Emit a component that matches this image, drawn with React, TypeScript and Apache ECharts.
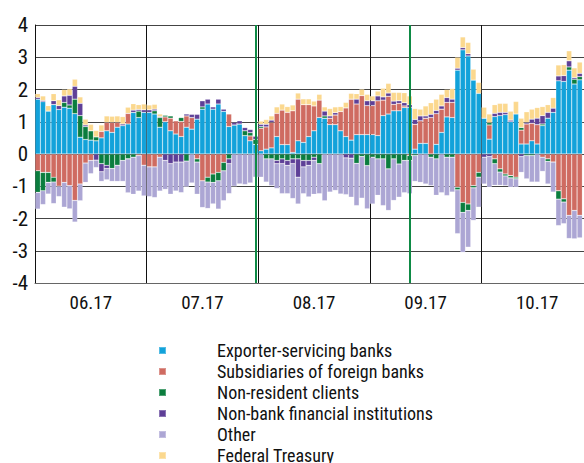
import React, { useEffect, useRef } from "react";
import * as echarts from "echarts";

// Months shown on the x axis and number of trading-day bars drawn per month
const months = ["06.17", "07.17", "08.17", "09.17", "10.17"];
const barsPerMonth = 21;
const categories = months.flatMap((m) =>
  Array.from({ length: barsPerMonth }, (_, k) => `${m}-${k + 1}`)
);

// Net FX sales by participant group, USD bn
const exporterBanks = [
  1.70, 1.62, 1.33, 1.53, 1.38, 1.45, 1.42, 1.25, 0.52, 0.45, 0.43, 0.41, 0.50, 0.72, 0.67, 0.83, 0.88, 0.93, 1.29, 1.13, 1.29,
  1.29, 1.24, 0.83, 1.00, 0.72, 0.62, 0.54, 0.83, 0.77, 1.08, 1.39, 1.55, 1.39, 1.55, 1.32, 0.85, 0.90, 0.93, 0.57, 0.41, 0.30,
  0.10, 0.15, 0.19, 0.54, 0.29, 0.29, 0.05, 0.41, 0.36, 0.54, 0.72, 1.13, 1.11, 0.91, 0.91, 0.72, 0.54, 0.43, 0.60, 0.60, 0.60,
  0.60, 0.57, 1.19, 1.24, 1.34, 1.34, 1.44, 1.44, 0.15, 0.33, 0.33, 0.00, 0.30, 0.67, 1.15, 1.13, 2.60, 3.23, 3.04, 2.29, 1.88,
  1.11, 0.46, 1.16, 1.19, 1.22, 1.00, 1.24, 0.31, 0.31, 0.41, 0.31, 0.88, 1.11, 1.29, 2.27, 2.25, 2.60, 2.17, 2.30,
];
const foreignSubsidiaries = [
  -0.52, -0.57, -0.57, -0.72, -1.00, -0.88, -0.98, -1.44, -0.93, -0.28, -0.20, 0.00, 0.20, 0.26, 0.31, 0.15, 0.00, 0.33, 0.00, -0.05, -0.35,
  -0.40, -0.40, -0.10, 0.15, 0.39, 0.41, 0.47, 0.35, 0.36, -0.15, -0.83, -0.72, -0.62, -0.57, -0.26, 0.39, 0.00, 0.00, 0.00, 0.15, 0.00,
  0.70, 0.69, 0.79, 0.72, 1.07, 1.00, 1.29, 1.29, 1.17, 0.99, 0.77, 0.54, 0.00, 0.20, 0.30, 0.60, 0.89, 1.27, 0.95, 1.21, 0.90,
  0.90, 1.08, 0.48, 0.55, 0.20, 0.23, 0.05, -0.05, 0.77, 0.70, 0.78, 1.13, 0.95, 0.72, 0.45, 0.47, -1.03, -1.50, -1.55, -0.98, -0.57,
  0.00, 0.44, -0.15, -0.46, -0.62, -0.67, -0.72, 0.43, 0.62, 0.54, 0.60, -0.10, -0.15, -0.25, -1.14, -1.39, -1.90, -1.75, -1.90,
];
const nonResidents = [
  -0.67, -0.57, -0.31, -0.15, 0.00, 0.15, 0.10, 0.45, 0.67, 0.40, 0.29, 0.12, -0.30, -0.35, -0.45, -0.35, -0.20, -0.15, -0.10, 0.20, 0.00,
  0.00, 0.10, 0.30, 0.05, 0.07, 0.00, 0.12, -0.22, 0.00, -0.10, 0.07, -0.15, -0.26, -0.26, -0.26, -0.15, 0.00, 0.00, 0.15, 0.10, 0.15,
  0.05, -0.15, -0.15, -0.20, -0.15, -0.20, -0.15, -0.15, -0.20, -0.20, -0.10, -0.30, 0.07, 0.00, 0.00, 0.00, 0.00, 0.00, -0.29, -0.08, -0.36,
  -0.10, -0.15, -0.15, -0.46, -0.15, -0.31, -0.20, -0.15, -0.05, 0.00, 0.00, -0.10, -0.15, 0.00, -0.10, -0.10, -0.08, -0.31, -0.20, -0.07, -0.15,
  0.00, 0.07, -0.15, -0.10, -0.06, -0.07, -0.05, 0.08, -0.05, -0.05, 0.00, 0.05, -0.08, 0.00, -0.26, -0.10, 0.10, 0.15, 0.10,
];
const nonBankFinancial = [
  0.05, 0.04, 0.00, 0.12, 0.12, 0.20, 0.30, 0.40, 0.38, 0.05, 0.00, -0.19, -0.25, -0.10, 0.00, 0.00, 0.05, 0.00, 0.07, 0.05, 0.08,
  0.08, 0.05, 0.03, -0.20, -0.30, -0.25, -0.25, 0.06, 0.10, 0.15, 0.19, 0.15, 0.07, 0.15, 0.07, -0.15, 0.08, 0.10, 0.10, 0.10, 0.10,
  0.07, 0.08, 0.07, -0.10, -0.15, -0.15, -0.15, -0.57, -0.20, -0.15, -0.10, 0.00, 0.15, 0.07, 0.07, 0.00, -0.12, -0.13, 0.15, 0.00, 0.15,
  0.15, 0.15, 0.10, 0.10, 0.10, 0.08, 0.10, 0.09, 0.15, 0.15, 0.07, 0.10, 0.10, 0.10, 0.15, 0.10, 0.06, 0.07, 0.07, 0.00, 0.00,
  -0.10, -0.08, 0.10, 0.10, 0.07, 0.05, 0.00, -0.08, 0.05, 0.13, 0.20, 0.26, 0.18, 0.13, 0.15, 0.18, 0.19, 0.05, 0.10,
];
const otherParticipants = [
  -0.52, -0.43, -0.36, -0.67, -0.32, -0.77, -0.72, -0.67, -0.52, -0.60, -0.41, -0.23, -0.30, -0.35, -0.40, -0.50, -0.65, -1.05, -1.15, -1.10, -0.95,
  -0.92, -0.95, -1.05, -0.90, -0.95, -0.90, -0.95, -0.80, -0.90, -1.00, -0.83, -0.82, -0.67, -0.88, -0.93, -0.93, -1.00, -0.93, -0.95, -0.90, -0.72,
  -0.72, -0.72, -0.83, -0.77, -0.93, -0.88, -1.08, -0.83, -0.83, -0.98, -1.05, -0.93, -1.45, -1.18, -1.13, -1.24, -1.14, -1.21, -1.31, -1.29, -1.34,
  -1.45, -1.13, -1.45, -1.29, -1.29, -1.03, -1.00, -1.03, -0.80, -0.88, -0.93, -0.88, -1.13, -1.20, -1.19, -1.08, -1.36, -1.24, -1.14, -1.01, -0.93,
  -0.83, -0.95, -0.67, -0.41, -0.30, -0.29, -0.26, -0.49, -0.72, -0.82, -0.87, -0.44, -0.70, -0.93, -0.82, -0.67, -0.72, -0.88, -0.70,
];
const federalTreasury = [
  0.12, 0.14, 0.17, 0.22, 0.18, 0.20, 0.20, 0.22, 0.20, 0.18, 0.20, 0.20, 0.20, 0.20, 0.19, 0.20, 0.23, 0.19, 0.20, 0.15, 0.18,
  0.15, 0.15, 0.08, 0.00, 0.00, 0.00, 0.00, 0.00, 0.00, 0.00, 0.00, 0.00, 0.00, 0.00, 0.00, 0.00, 0.00, 0.00, 0.00, 0.00, 0.00,
  0.10, 0.15, 0.13, 0.20, 0.19, 0.18, 0.18, 0.19, 0.18, 0.18, 0.15, 0.18, 0.13, 0.23, 0.18, 0.15, 0.17, 0.18, 0.17, 0.20, 0.20,
  0.15, 0.15, 0.27, 0.30, 0.27, 0.26, 0.31, 0.27, 0.34, 0.21, 0.31, 0.36, 0.35, 0.36, 0.25, 0.33, 0.34, 0.33, 0.35, 0.34, 0.34,
  0.34, 0.27, 0.27, 0.28, 0.28, 0.28, 0.39, 0.29, 0.33, 0.31, 0.33, 0.28, 0.24, 0.33, 0.34, 0.34, 0.31, 0.30, 0.35,
];

const seriesNames = [
  "Exporter-servicing banks",
  "Subsidiaries of foreign banks",
  "Non-resident clients",
  "Non-bank financial institutions",
  "Other",
  "Federal Treasury",
];
const seriesColors = ["#12A2DA", "#CF6B61", "#0B7D3E", "#5E3F97", "#ACA6D4", "#FBD88E"];
const seriesValues = [
  exporterBanks,
  foreignSubsidiaries,
  nonResidents,
  nonBankFinancial,
  otherParticipants,
  federalTreasury,
];

// Days marked with vertical green lines
const eventDays = ["07.17-21", "09.17-8"];

const FONT = "'Liberation Sans Narrow', 'Roboto Condensed', 'DejaVu Sans Condensed', 'Arial Narrow', sans-serif";

export default function App() {
  const ref = useRef<HTMLDivElement>(null);

  useEffect(() => {
    if (!ref.current) return;
    const chart = echarts.init(ref.current, undefined, { renderer: "svg" });

    const series: any[] = seriesNames.map((name, i) => ({
      name,
      type: "bar",
      stack: "total",
      xAxisIndex: 0,
      yAxisIndex: 0,
      barCategoryGap: "0%",
      barGap: "0%",
      data: seriesValues[i],
      itemStyle: {
        color: seriesColors[i],
        borderColor: "rgba(255,255,255,0.28)",
        borderWidth: 0.6,
      },
      emphasis: { disabled: true },
      ...(i === 0
        ? {
            markLine: {
              silent: true,
              symbol: "none",
              label: { show: false },
              lineStyle: { color: "#0E8A45", width: 2, type: "solid" },
              data: eventDays.map((d) => ({ xAxis: d })),
            },
          }
        : {}),
    }));

    chart.setOption({
      animation: false,
      backgroundColor: "#ffffff",
      grid: { left: 35, top: 25, width: 558, height: 258, containLabel: false },
      xAxis: [
        {
          type: "category",
          data: categories,
          show: false,
        },
        {
          type: "category",
          data: months,
          position: "bottom",
          boundaryGap: true,
          axisLine: { show: true, lineStyle: { color: "#666", width: 1 } },
          axisTick: { show: false },
          splitLine: { show: true, lineStyle: { color: "#111", width: 1 } },
          axisLabel: { fontFamily: FONT, fontSize: 19, color: "#111", margin: 10 },
        },
      ],
      yAxis: {
        type: "value",
        min: -4,
        max: 4,
        interval: 1,
        axisLine: { show: true, lineStyle: { color: "#111", width: 1 } },
        axisTick: { show: false },
        splitLine: { show: true, lineStyle: { color: "#444", width: 1 } },
        axisLabel: { fontFamily: FONT, fontSize: 21, color: "#111", margin: 7 },
      },
      legend: {
        orient: "vertical",
        left: 153,
        top: 335,
        height: 220,
        itemWidth: 7,
        itemHeight: 7,
        itemGap: 0,
        icon: "rect",
        selectedMode: false,
        data: seriesNames,
        textStyle: {
          fontFamily: FONT,
          fontSize: 18,
          lineHeight: 21,
          color: "#111",
          padding: [0, 0, 0, 46],
        },
      },
      series,
    });

    return () => chart.dispose();
  }, []);

  return (
    <div
      style={{
        position: "fixed",
        left: 0,
        top: 0,
        width: 584,
        height: 463,
        overflow: "hidden",
        background: "#fff",
      }}
    >
      <div ref={ref} style={{ width: 600, height: 463 }} />
    </div>
  );
}
